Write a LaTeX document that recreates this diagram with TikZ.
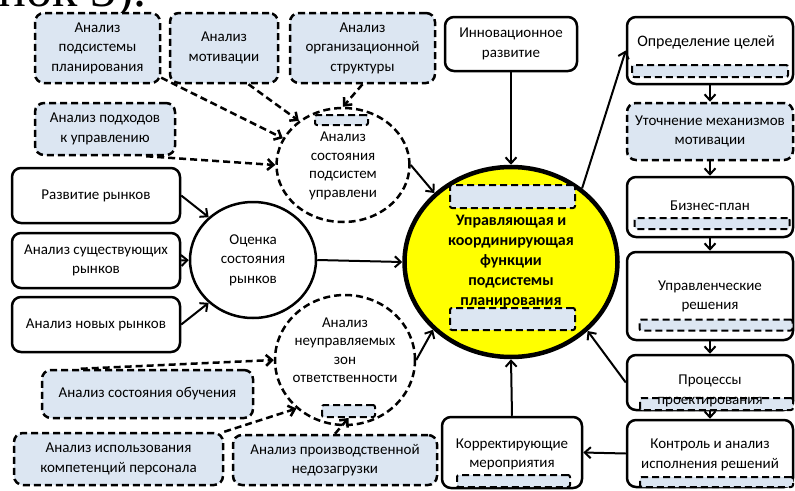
\documentclass[tikz,border=0pt]{standalone}
\usepackage{fontspec}
\setmainfont{Carlito}
\newfontfamily\pagefont{Liberation Serif}
\usetikzlibrary{arrows.meta,shapes.geometric,calc}

\definecolor{boxblue}{RGB}{220,230,242}
\definecolor{sunyellow}{RGB}{255,255,0}

\tikzset{
  every node/.style={font=\fontsize{15}{19.5}\selectfont, align=center, inner sep=0pt},
  dashline/.style={line width=2.5pt, dash pattern=on 7pt off 4pt},
  plainbox/.style={draw, line width=2.5pt, rounded corners=9pt, fill=white},
  bluebox/.style={draw, dashline, rounded corners=9pt, fill=boxblue},
  slot/.style={draw, dashline, line width=2pt, rounded corners=2pt, fill=boxblue},
  oval/.style={ellipse, draw, line width=2.5pt, fill=white},
  dashoval/.style={ellipse, draw, dashline, fill=white},
  link/.style={line width=2pt, -{Straight Barb[length=6pt,width=11pt]}},
  dashlink/.style={dashline, -{Straight Barb[length=6pt,width=11pt]}},
}

\begin{document}
\begin{tikzpicture}[x=1pt,y=-1pt]
  \useasboundingbox (0,0) rectangle (795,490);

  % --- text of the page, cut off above the figure ---
  \begin{scope}
    \clip (0,0) rectangle (795,490);
    \node[anchor=base west, font=\pagefont\fontsize{52}{52}\selectfont] (pagetext) at (-2,6) {нок 3).};
  \end{scope}

  % --- analysis boxes, top left ---
  \node[bluebox, minimum width=125pt, minimum height=70pt] (apl) at (97.5,48) {Анализ\\подсистемы\\планирования};
  \node[bluebox, minimum width=108pt, minimum height=70pt] (amot) at (224,48) {Анализ\\мотивации};
  \node[bluebox, minimum width=145pt, minimum height=70pt] (aorg) at (362.5,48) {Анализ\\организационной\\структуры};
  \node[bluebox, minimum width=140pt, minimum height=52pt] (apod) at (105,129) {Анализ подходов\\к управлению};

  % --- markets ---
  \node[plainbox, minimum width=168pt, minimum height=55pt] (rdev) at (96,195.5) {Развитие рынков};
  \node[plainbox, minimum width=168pt, minimum height=55pt] (rex) at (96,260.5) {Анализ существующих\\рынков};
  \node[plainbox, minimum width=168pt, minimum height=55pt] (rnew) at (96,324.5) {Анализ новых рынков};
  \node[oval, minimum width=126pt, minimum height=116pt] (ocen) at (253,260) {Оценка\\состояния\\рынков};

  % --- dashed circles ---
  \node[dashoval, minimum width=133pt, minimum height=114pt] (aps) at (343,165) {};
  \node[slot, minimum width=53pt, minimum height=10pt] (apsslot) at (341.5,120) {};
  \node[font=\fontsize{15}{18.5}\selectfont] (apstxt) at (343,166) {Анализ\\состояния\\подсистем\\управлени};

  \node[dashoval, minimum width=140pt, minimum height=130pt] (anz) at (345,360) {};
  \node[slot, minimum width=53pt, minimum height=12pt] (anzslot) at (348.5,411) {};
  \node[font=\fontsize{15}{18.5}\selectfont] (anztxt) at (345,350) {Анализ\\неуправляемых\\зон\\ответственности};

  % --- analysis boxes, bottom left ---
  \node[bluebox, minimum width=211pt, minimum height=48pt] (aob) at (147.5,394) {Анализ состояния обучения};
  \node[bluebox, minimum width=209pt, minimum height=52pt] (akomp) at (118.5,459) {Анализ использования\\компетенций персонала};
  \node[bluebox, minimum width=204pt, minimum height=50pt] (aprod) at (335,460) {Анализ производственной\\недозагрузки};

  % --- centre ---
  \node[ellipse, draw, line width=4.5pt, fill=sunyellow, minimum width=213pt, minimum height=190pt] (yel) at (511,262) {};
  \node[slot, minimum width=125pt, minimum height=23pt] (yelslottop) at (512.5,196.5) {};
  \node[slot, minimum width=125pt, minimum height=22pt] (yelslotbot) at (512.5,319) {};
  \node[font=\bfseries\fontsize{16}{20}\selectfont] (yeltxt) at (511,262) {Управляющая и\\координирующая\\функции\\подсистемы\\планирования};

  \node[plainbox, minimum width=132pt, minimum height=54pt] (inn) at (511,44) {Инновационное\\развитие};
  \node[plainbox, minimum width=140pt, minimum height=71pt] (corr) at (512,452.5) {};
  \node[slot, minimum width=113pt, minimum height=12pt] (corrslot) at (513.5,481) {};
  \node (corrtxt) at (512,454.5) {Корректирующие\\мероприятия};

  % --- right column ---
  \node[plainbox, minimum width=166pt, minimum height=67pt] (goal) at (710,50.5) {};
  \node[slot, minimum width=156pt, minimum height=12pt] (goalslot) at (710,71) {};
  \node[font=\fontsize{16}{19.5}\selectfont] (goaltxt) at (706,42) {Определение целей};

  \node[bluebox, minimum width=166pt, minimum height=57pt] (mot) at (710,131.5) {Уточнение механизмов\\мотивации};

  \node[plainbox, minimum width=166pt, minimum height=60pt] (biz) at (710,207) {};
  \node[slot, minimum width=155pt, minimum height=11pt] (bizslot) at (712,223.5) {};
  \node (biztxt) at (710,206) {Бизнес-план};

  \node[plainbox, minimum width=166pt, minimum height=88pt] (dec) at (710,296) {};
  \node[slot, minimum width=153pt, minimum height=11pt] (decslot) at (716,325) {};
  \node (dectxt) at (710,296.5) {Управленческие\\решения};

  \node[plainbox, minimum width=166pt, minimum height=55pt] (proc) at (710,382.5) {};
  \node[slot, minimum width=153pt, minimum height=12pt] (procslot) at (716.5,404) {};
  \node (proctxt) at (710,391) {Процессы\\проектирования};

  \node[plainbox, minimum width=166pt, minimum height=67pt] (ctrl) at (710,453.5) {};
  \node[slot, minimum width=153pt, minimum height=10pt] (ctrlslot) at (716.5,482) {};
  \node (ctrltxt) at (710,455) {Контроль и анализ\\исполнения решений};

  % --- connectors ---
  \draw[dashlink] (apl.-25) -- (aps.156);
  \draw[dashlink] (amot.-56) -- (aps.135);
  \draw[dashlink] (aorg.south) -- (aps.north);
  \draw[dashlink] ($(apod.south east)+(-30,0)$) -- (aps.west);
  \draw[link] (aps.east) -- (yel.138);

  \draw[link] (rdev.east) -- (ocen.136);
  \draw[link] (rex.east) -- (ocen.west);
  \draw[link] (rnew.east) -- (ocen.224);
  \draw[link] (ocen.east) -- (yel.west);

  \draw[dashlink] ($(aob.north west)+(40,0)$) -- (anz.west);
  \draw[dashlink] (akomp.north east) -- (anz.225);
  \draw[dashlink] (aprod.north) -- (anzslot.south);
  \draw[link] (anz.east) -- (yel.221);

  \draw[link] (inn.south) -- (yel.north);
  \draw[link] (yel.46) -- (goal.west);
  \draw[link] (goal.south) -- (mot.north);
  \draw[link] (mot.south) -- (biz.north);
  \draw[link] (biz.south) -- (dec.north);
  \draw[link] (dec.south) -- (proc.north);
  \draw[link] (proc.south) -- (ctrl.north);
  \draw[link] (proc.west) -- (yel.-42);
  \draw[link] (ctrl.west) -- (corr.east);
  \draw[link] (corr.north) -- (yel.south);
\end{tikzpicture}
\end{document}
